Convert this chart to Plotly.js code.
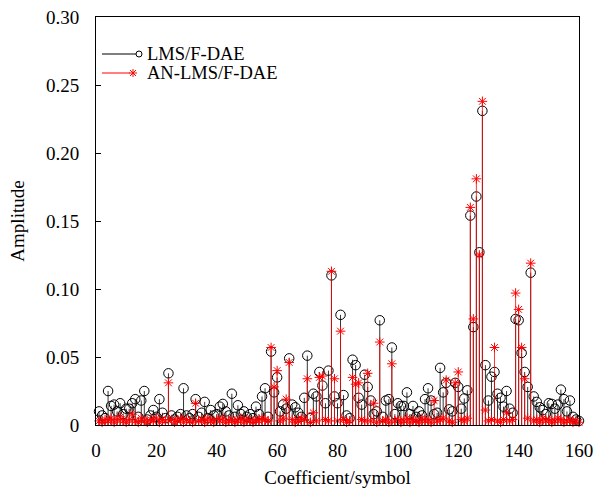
<!DOCTYPE html>
<html>
<head>
<meta charset="utf-8">
<script src="https://cdn.plot.ly/plotly-3.0.1.min.js"></script>
<style>
  html, body { margin: 0; padding: 0; background: #fff; }
  #chart { width: 594px; height: 491px; }
</style>
</head>
<body>
<div id="chart"></div>
<script>
// Coefficient amplitudes, one value per coefficient index 1..160
const lmsAmp = [
  0.010, 0.007, 0.005, 0.025, 0.014, 0.015, 0.010, 0.016, 0.008, 0.012,
  0.012, 0.016, 0.019, 0.006, 0.018, 0.025, 0.004, 0.007, 0.011, 0.006,
  0.019, 0.009, 0.005, 0.038, 0.007, 0.004, 0.006, 0.008, 0.027, 0.007,
  0.005, 0.008, 0.019, 0.006, 0.009, 0.017, 0.005, 0.011, 0.007, 0.008,
  0.0135, 0.0155, 0.010, 0.007, 0.023, 0.006, 0.0145, 0.008, 0.010, 0.006,
  0.008, 0.005, 0.0135, 0.008, 0.021, 0.027, 0.006, 0.054, 0.024, 0.035,
  0.010, 0.015, 0.012, 0.049, 0.015, 0.013, 0.009, 0.006, 0.020, 0.051,
  0.005, 0.023, 0.021, 0.039, 0.029, 0.016, 0.040, 0.110, 0.021, 0.016,
  0.081, 0.022, 0.007, 0.005, 0.048, 0.044, 0.020, 0.015, 0.037, 0.028,
  0.018, 0.008, 0.010, 0.077, 0.006, 0.018, 0.019, 0.057, 0.008, 0.016,
  0.014, 0.014, 0.024, 0.008, 0.014, 0.006, 0.010, 0.007, 0.019, 0.027,
  0.018, 0.008, 0.009, 0.042, 0.024, 0.031, 0.0115, 0.010, 0.031, 0.028,
  0.012, 0.0195, 0.0255, 0.154, 0.072, 0.168, 0.127, 0.231, 0.044, 0.018,
  0.0355, 0.039, 0.023, 0.020, 0.0135, 0.025, 0.012, 0.009, 0.078, 0.077,
  0.053, 0.039, 0.028, 0.112, 0.021, 0.017, 0.013, 0.011, 0.008, 0.016,
  0.0155, 0.012, 0.015, 0.026, 0.019, 0.010, 0.018, 0.006, 0.004, 0.003
];

const anLmsAmp = [
  0.003, 0.002, 0.004, 0.003, 0.005, 0.002, 0.004, 0.006, 0.003, 0.002,
  0.004, 0.008, 0.003, 0.002, 0.005, 0.003, 0.002, 0.004, 0.003, 0.005,
  0.002, 0.004, 0.003, 0.031, 0.004, 0.002, 0.003, 0.005, 0.002, 0.004,
  0.003, 0.002, 0.016, 0.003, 0.004, 0.002, 0.005, 0.003, 0.002, 0.004,
  0.003, 0.005, 0.002, 0.003, 0.004, 0.002, 0.003, 0.005, 0.002, 0.004,
  0.003, 0.002, 0.004, 0.003, 0.005, 0.004, 0.003, 0.057, 0.028, 0.040,
  0.003, 0.005, 0.019, 0.046, 0.004, 0.002, 0.003, 0.005, 0.004, 0.034,
  0.002, 0.009, 0.003, 0.035, 0.036, 0.004, 0.003, 0.113, 0.034, 0.003,
  0.069, 0.004, 0.002, 0.003, 0.035, 0.030, 0.031, 0.004, 0.003, 0.038,
  0.003, 0.016, 0.002, 0.061, 0.003, 0.004, 0.002, 0.045, 0.003, 0.004,
  0.002, 0.003, 0.005, 0.002, 0.004, 0.003, 0.002, 0.005, 0.003, 0.004,
  0.002, 0.018, 0.003, 0.004, 0.005, 0.033, 0.003, 0.002, 0.031, 0.039,
  0.004, 0.003, 0.005, 0.160, 0.078, 0.181, 0.125, 0.238, 0.011, 0.003,
  0.004, 0.057, 0.003, 0.002, 0.004, 0.009, 0.003, 0.004, 0.097, 0.085,
  0.057, 0.034, 0.005, 0.119, 0.003, 0.004, 0.002, 0.005, 0.003, 0.004,
  0.002, 0.003, 0.005, 0.004, 0.002, 0.003, 0.004, 0.002, 0.003, 0.002
];

const seriesNames = ['LMS/F-DAE', 'AN-LMS/F-DAE'];
const xTickVals = [0, 20, 40, 60, 80, 100, 120, 140, 160];
const yTickVals = [0, 0.05, 0.10, 0.15, 0.20, 0.25, 0.30];
const yTickText = ['0', '0.05', '0.10', '0.15', '0.20', '0.25', '0.30'];
const xLabel = 'Coefficient/symbol';
const yLabel = 'Amplitude';

const FONT = '"Liberation Serif", "Times New Roman", Times, serif';

// stem helper: vertical segment from 0 up to each value
function stems(vals) {
  const xs = [], ys = [];
  vals.forEach((v, i) => { xs.push(i + 1, i + 1, null); ys.push(0, v, null); });
  return { x: xs, y: ys };
}
const idx = lmsAmp.map((_, i) => i + 1);

const s1 = stems(lmsAmp), s2 = stems(anLmsAmp);

const traces = [
  { x: s1.x, y: s1.y, mode: 'lines', line: { color: '#000', width: 0.8 },
    hoverinfo: 'skip', showlegend: false, cliponaxis: false },
  { x: idx, y: lmsAmp, mode: 'markers', name: seriesNames[0], showlegend: false,
    marker: { symbol: 'circle-open', size: 9.5, color: '#000', line: { width: 1, color: '#000' } },
    cliponaxis: false },
  { x: s2.x, y: s2.y, mode: 'lines', line: { color: '#ff0000', width: 0.8 },
    hoverinfo: 'skip', showlegend: false, cliponaxis: false },
  { x: idx, y: anLmsAmp, mode: 'markers', name: seriesNames[1], showlegend: false,
    marker: { symbol: 'asterisk-open', size: 8, color: '#ff0000', line: { width: 1, color: '#ff0000' } },
    cliponaxis: false }
];

// hand-drawn legend (line, then marker at its end, then label)
const W = 483, H = 408;   // plot area in px
const px = p => p / W, py = p => 1 - p / H;
const legendRows = [
  { y: 37, x1: 40, mx: 43, color: '#000', name: seriesNames[0], kind: 'circle' },
  { y: 56, x1: 34, mx: 37, color: '#ff0000', name: seriesNames[1], kind: 'star' }
];
const shapes = [], annotations = [];
legendRows.forEach(r => {
  shapes.push({ type: 'line', xref: 'paper', yref: 'paper',
    x0: px(6), x1: px(r.x1), y0: py(r.y), y1: py(r.y), line: { color: r.color, width: 1 } });
  if (r.kind === 'circle') {
    shapes.push({ type: 'circle', xref: 'paper', yref: 'paper', xsizemode: 'pixel', ysizemode: 'pixel',
      xanchor: px(r.mx), yanchor: py(r.y), x0: -3, x1: 3, y0: -3, y1: 3,
      line: { color: r.color, width: 1 } });
  } else {
    shapes.push({ type: 'path', xref: 'paper', yref: 'paper', xsizemode: 'pixel', ysizemode: 'pixel',
      xanchor: px(r.mx), yanchor: py(r.y),
      path: 'M-4,0H4M0,-4V4M-3,-3L3,3M-3,3L3,-3', line: { color: r.color, width: 1 } });
  }
  annotations.push({ xref: 'paper', yref: 'paper', x: px(49), y: py(r.y), xanchor: 'left', yanchor: 'middle',
    text: r.name, showarrow: false, font: { family: FONT, size: 18.5, color: '#000' } });
});

const layout = {
  width: 594, height: 491,
  margin: { l: 96, r: 15, t: 17, b: 66 },
  paper_bgcolor: '#fff', plot_bgcolor: '#fff',
  font: { family: FONT, size: 19, color: '#000' },
  showlegend: false,
  xaxis: {
    range: [0, 160], tickvals: xTickVals, ticks: 'inside', ticklen: 5, tickcolor: '#000',
    showline: true, mirror: true, linecolor: '#000', linewidth: 1,
    showgrid: false, zeroline: false, ticklabelstandoff: 8,
    title: { text: xLabel, font: { family: FONT, size: 19 }, standoff: 10 }
  },
  yaxis: {
    range: [0, 0.30], tickvals: yTickVals, ticktext: yTickText, ticks: 'inside', ticklen: 5, tickcolor: '#000',
    showline: true, mirror: true, linecolor: '#000', linewidth: 1,
    showgrid: false, zeroline: false, ticklabelstandoff: 12,
    title: { text: yLabel, font: { family: FONT, size: 19 }, standoff: 16 }
  },
  shapes: shapes,
  annotations: annotations
};

Plotly.newPlot('chart', traces, layout, { staticPlot: true, displayModeBar: false });
</script>
</body>
</html>
